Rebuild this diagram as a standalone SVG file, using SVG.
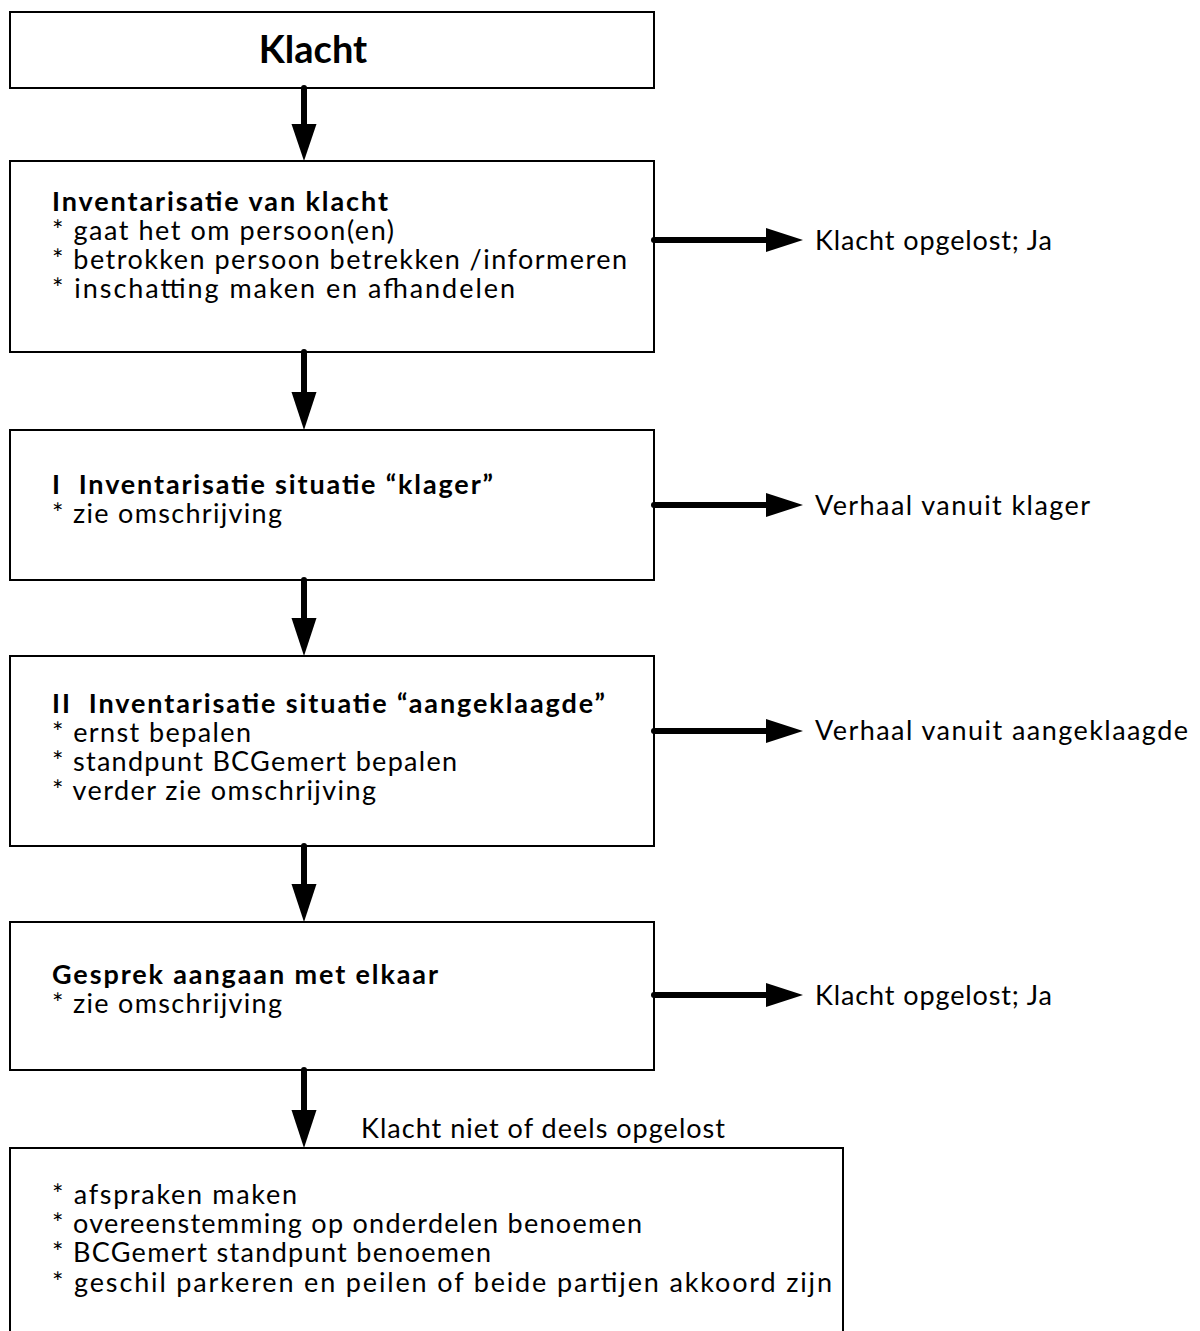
<svg xmlns="http://www.w3.org/2000/svg" width="1200" height="1331" viewBox="0 0 1200 1331">
<defs>
<style>
.box{fill:#fff;stroke:#000;stroke-width:2}
.t{font-family:Lato,"Open Sans","Liberation Sans",sans-serif;font-size:27px;fill:#000;white-space:pre}
.b{font-weight:bold}
.h{font-size:38px}
</style>
</defs>
<rect width="1200" height="1331" fill="#fff"/>
<g id="n1"><rect class="box" x="10" y="12" width="644" height="76"/><text class="t b h" x="313" y="63" text-anchor="middle">Klacht</text></g>
<g id="n2"><rect class="box" x="10" y="161" width="644" height="191"/>
<text class="t b" x="52" y="211" textLength="336">Inventarisatie van klacht</text>
<text class="t" x="52" y="240" textLength="342">* gaat het om persoon(en)</text>
<text class="t" x="52" y="269" textLength="575">* betrokken persoon betrekken /informeren</text>
<text class="t" x="52" y="298" textLength="463">* inschatting maken en afhandelen</text></g>
<g id="n3"><rect class="box" x="10" y="430" width="644" height="150"/>
<text class="t b" x="52" y="494" textLength="441">I  Inventarisatie situatie “klager”</text>
<text class="t" x="52" y="523" textLength="230">* zie omschrijving</text></g>
<g id="n4"><rect class="box" x="10" y="656" width="644" height="190"/>
<text class="t b" x="52" y="713" textLength="553">II  Inventarisatie situatie “aangeklaagde”</text>
<text class="t" x="52" y="742" textLength="199">* ernst bepalen</text>
<text class="t" x="52" y="771" textLength="405">* standpunt BCGemert bepalen</text>
<text class="t" x="52" y="800" textLength="324">* verder zie omschrijving</text></g>
<g id="n5"><rect class="box" x="10" y="922" width="644" height="148"/>
<text class="t b" x="52" y="984" textLength="386">Gesprek aangaan met elkaar</text>
<text class="t" x="52" y="1013" textLength="230">* zie omschrijving</text></g>
<g id="n6"><rect class="box" x="10" y="1148" width="833" height="190"/>
<text class="t" x="52" y="1204" textLength="245">* afspraken maken</text>
<text class="t" x="52" y="1233" textLength="590">* overeenstemming op onderdelen benoemen</text>
<text class="t" x="52" y="1262" textLength="439">* BCGemert standpunt benoemen</text>
<text class="t" x="52" y="1292" textLength="780">* geschil parkeren en peilen of beide partijen akkoord zijn</text></g>
<g id="r1"><text class="t" x="815" y="250" textLength="237">Klacht opgelost; Ja</text></g>
<g id="r2"><text class="t" x="815" y="515" textLength="275">Verhaal vanuit klager</text></g>
<g id="r3"><text class="t" x="815" y="740" textLength="373">Verhaal vanuit aangeklaagde</text></g>
<g id="r4"><text class="t" x="815" y="1005" textLength="237">Klacht opgelost; Ja</text></g>
<g id="l1"><text class="t" x="361" y="1138" textLength="364">Klacht niet of deels opgelost</text></g>
<g id="connectors">
<g stroke="#000" stroke-width="6" stroke-linecap="round">
<line x1="304" y1="88" x2="304" y2="126"/>
<line x1="304" y1="352" x2="304" y2="394"/>
<line x1="304" y1="580" x2="304" y2="620"/>
<line x1="304" y1="846" x2="304" y2="886"/>
<line x1="304" y1="1070" x2="304" y2="1112"/>
<line x1="654" y1="240" x2="770" y2="240"/>
<line x1="654" y1="505" x2="770" y2="505"/>
<line x1="654" y1="731" x2="770" y2="731"/>
<line x1="654" y1="995" x2="770" y2="995"/>
</g>
<g fill="#000">
<polygon points="291.5,124 316.5,124 304,161"/>
<polygon points="291.5,392 316.5,392 304,430"/>
<polygon points="291.5,618 316.5,618 304,656"/>
<polygon points="291.5,884 316.5,884 304,922"/>
<polygon points="291.5,1110 316.5,1110 304,1148"/>
<polygon points="766,228 766,252 803,240"/>
<polygon points="766,493 766,517 803,505"/>
<polygon points="766,719 766,743 803,731"/>
<polygon points="766,983 766,1007 803,995"/>
</g>
</g>
</svg>
